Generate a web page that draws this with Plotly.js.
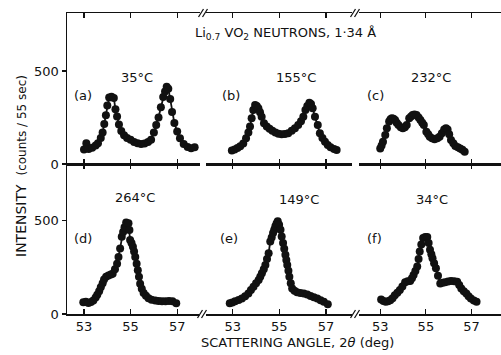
<!DOCTYPE html>
<html><head><meta charset="utf-8">
<script src="https://cdn.plot.ly/plotly-3.0.1.min.js"></script>
<style>html,body{margin:0;padding:0;background:#fff;}#chart{width:501px;height:355px;}</style>
</head><body><div id="chart"></div>
<script>
// Panel (a) 35°C
const xA=[53.0,53.1,53.2,53.35,53.5,53.6,53.72,53.8,53.87,53.94,54.0,54.08,54.18,54.28,54.35,54.42,54.5,54.6,54.72,54.85,55.0,55.15,55.3,55.45,55.6,55.75,55.88,56.0,56.1,56.2,56.3,56.4,56.48,56.55,56.62,56.7,56.78,56.88,57.0,57.12,57.28,57.45,57.6,57.75];
const yA=[78,112,80,88,100,112,140,170,215,262,315,358,362,355,295,255,212,178,155,140,130,118,112,108,110,118,130,170,210,250,305,360,390,415,405,350,280,220,175,138,108,92,85,90];
// Panel (b) 155°C
const xB=[52.96,53.08,53.2,53.32,53.45,53.57,53.67,53.74,53.81,53.88,53.96,54.03,54.1,54.17,54.24,54.34,54.46,54.58,54.7,54.83,54.96,55.1,55.24,55.38,55.53,55.67,55.81,55.93,56.03,56.12,56.2,56.29,56.36,56.43,56.53,56.65,56.74,56.85,56.96,57.08,57.2,57.35,57.46];
const yB=[72,78,86,95,110,138,170,201,246,290,317,312,300,278,254,219,201,190,179,170,162,160,161,165,179,192,210,230,254,290,312,330,322,300,254,210,165,140,120,102,90,80,75];
// Panel (c) 232°C
const xC=[53.0,53.06,53.12,53.22,53.29,53.39,53.45,53.51,53.58,53.65,53.72,53.8,53.9,53.99,54.08,54.16,54.27,54.35,54.42,54.5,54.59,54.68,54.76,54.84,54.91,55.02,55.1,55.17,55.27,55.38,55.5,55.6,55.7,55.8,55.88,55.95,56.02,56.1,56.2,56.29,56.4,56.5,56.6,56.7];
const yC=[84,100,120,156,192,228,240,246,244,237,222,210,198,192,198,210,246,255,263,266,263,250,237,222,210,174,160,147,138,133,138,147,165,185,192,185,160,129,112,97,90,84,76,66];
// Panel (d) 264°C
const xD=[52.97,53.08,53.19,53.3,53.4,53.5,53.57,53.65,53.72,53.8,53.86,53.95,54.05,54.15,54.23,54.33,54.42,54.48,54.55,54.62,54.68,54.74,54.81,54.91,54.95,54.98,55.04,55.1,55.15,55.2,55.26,55.31,55.36,55.41,55.48,55.56,55.66,55.77,55.9,56.06,56.2,56.35,56.5,56.65,56.8,56.96];
const yD=[63,65,59,64,72,88,103,122,144,165,185,200,207,212,216,240,270,306,351,414,440,465,491,486,450,396,380,360,335,306,270,234,200,162,135,113,98,84,76,72,70,68,68,70,68,57];
// Panel (e) 149°C
const xE=[52.87,52.98,53.1,53.25,53.39,53.53,53.67,53.78,53.89,54.0,54.11,54.18,54.25,54.33,54.4,54.47,54.54,54.61,54.67,54.73,54.78,54.83,54.88,54.93,54.99,55.05,55.1,55.16,55.21,55.26,55.3,55.34,55.39,55.43,55.49,55.55,55.65,55.76,55.9,56.05,56.2,56.34,56.48,56.63,56.77,56.91,57.08];
const yE=[58,62,69,75,83,95,110,128,146,165,182,200,218,240,263,295,326,389,410,434,452,470,485,497,478,452,415,380,350,317,290,263,232,200,165,137,125,116,112,110,104,97,90,83,74,65,52];
// Panel (f) 34°C
const xF=[53.04,53.14,53.24,53.34,53.44,53.54,53.64,53.75,53.86,53.97,54.09,54.2,54.31,54.39,54.46,54.54,54.62,54.68,54.73,54.8,54.88,54.97,55.06,55.12,55.18,55.24,55.29,55.36,55.44,55.53,55.63,55.73,55.84,55.97,56.1,56.24,56.37,56.46,56.55,56.66,56.77,56.87,56.97,57.1,57.22];
const yF=[78,70,65,68,74,85,101,114,128,148,170,175,177,192,209,230,254,295,335,372,407,413,413,380,344,320,299,272,245,205,164,168,170,174,177,175,173,155,137,122,110,95,83,72,65];

const tickVals=[53,55,57];
const tickText=['53','55','57'];
const yTickVals=[0,500];
const yTickText=['0','500'];
const temps=['35°C','155°C','232°C','264°C','149°C','34°C'];
const panelLabels=['(a)','(b)','(c)','(d)','(e)','(f)'];

const L=67,T=13,R=501,B=314;
const px=x=>(x-L)/(R-L), py=y=>(B-y)/(B-T);
const FONT='DejaVu Sans', INK='#111';

function tr(x,y,xa,ya){return {x:x,y:y,xaxis:xa,yaxis:ya,type:'scatter',mode:'lines+markers',
  line:{color:INK,width:1.8},marker:{color:INK,size:8},hoverinfo:'skip',showlegend:false};}
const data=[tr(xA,yA,'x4','y2'),tr(xB,yB,'x5','y2'),tr(xC,yC,'x6','y2'),
            tr(xD,yD,'x','y'),tr(xE,yE,'x2','y'),tr(xF,yF,'x3','y')];

const segDom=[[0,px(200)],[px(206),px(352)],[px(359),1]];
const segRng=[[52.27,57.98],[51.85,58.12],[52.07,58.29]];
function xax(i,anchor,labels){return {domain:segDom[i],range:segRng[i],anchor:anchor,showline:true,linecolor:INK,linewidth:1.5,
  ticks:'inside',ticklen:5,tickwidth:1.2,tickcolor:INK,mirror:'ticks',tickvals:tickVals,ticktext:tickText,
  showticklabels:labels,showgrid:false,zeroline:false,fixedrange:true,tickfont:{family:FONT,size:13,color:INK}};}
function yax(dom,rng,anchor){return {domain:dom,range:rng,anchor:anchor,showline:true,linecolor:INK,linewidth:1.5,
  ticks:'outside',ticklen:4,tickwidth:1.2,tickcolor:INK,tickvals:yTickVals,ticktext:yTickText,
  showgrid:false,zeroline:false,fixedrange:true,tickfont:{family:FONT,size:13,color:INK}};}

const ann=[];
function txt(t,x,y,size,extra){ann.push(Object.assign({text:t,x:px(x),y:py(y),xref:'paper',yref:'paper',showarrow:false,
  xanchor:'center',yanchor:'middle',font:{family:FONT,size:size,color:INK}},extra||{}));}
txt('Li<sub>0.7</sub> VO<sub>2</sub> NEUTRONS, 1·34 Å',285,33,13);
const tPos=[[137,78],[296,78],[431,78],[135,198],[299,199],[432,199]];
const lPos=[[83,95],[231,95],[375,95],[83,238],[229,238],[374,238]];
temps.forEach((t,i)=>txt(t,tPos[i][0],tPos[i][1],13));
panelLabels.forEach((t,i)=>txt(t,lPos[i][0],lPos[i][1],13));
txt('INTENSITY  <span style="font-size:12px">(counts / 55 sec)</span>',21,166,14,{textangle:-90});
txt('SCATTERING ANGLE, 2<i>θ</i> (deg)',297,342,13);

const shapes=[];
[[203,13],[355,13],[202,314],[355,314]].forEach(([cx,cy])=>{
  shapes.push({type:'rect',xref:'paper',yref:'paper',x0:px(cx-3),x1:px(cx+3),y0:py(cy+1.5),y1:py(cy-1.5),fillcolor:'#fff',line:{width:0}});
  [-2,2].forEach(d=>shapes.push({type:'line',xref:'paper',yref:'paper',x0:px(cx+d-2.5),y0:py(cy+4),x1:px(cx+d+2.5),y1:py(cy-4),line:{color:INK,width:1.3}}));
});

const layout={width:501,height:355,margin:{l:L,r:0,t:T,b:355-B},paper_bgcolor:'#fff',plot_bgcolor:'#fff',
  showlegend:false,
  xaxis:xax(0,'y',true),xaxis2:xax(1,'y',true),xaxis3:xax(2,'y',true),
  xaxis4:xax(0,'y2',false),xaxis5:xax(1,'y2',false),xaxis6:xax(2,'y2',false),
  yaxis:yax([0,150/301],[0,804],'x'),yaxis2:yax([150/301,1],[0,812],'x4'),
  annotations:ann,shapes:shapes};
Plotly.newPlot('chart',data,layout,{staticPlot:true,displayModeBar:false});
</script></body></html>
